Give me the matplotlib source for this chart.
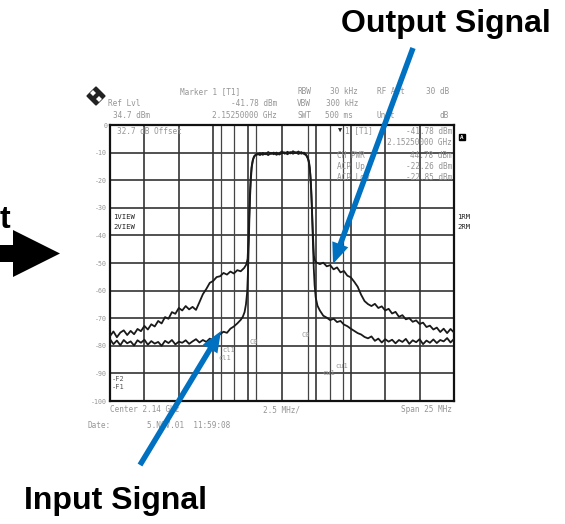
import matplotlib
matplotlib.use("Agg")
import matplotlib.pyplot as plt
from matplotlib.patches import FancyArrow, Polygon
from matplotlib.transforms import IdentityTransform

W, H = 565, 524

# frequency offset from centre (MHz) and level (dB)
output_freq = [-12.5, -12.25, -12.0, -11.75, -11.5, -11.25, -11.0, -10.75, -10.5, -10.25,
               -10.0, -9.75, -9.5, -9.25, -9.0, -8.75, -8.5, -8.25, -8.0, -7.75,
               -7.5, -7.25, -7.0, -6.75, -6.5, -6.25, -6.0, -5.75, -5.5, -5.25,
               -5.0, -4.75, -4.5, -4.25, -4.0, -3.75, -3.5, -3.25, -3.0, -2.75,
               -2.6, -2.5, -2.44, -2.39, -2.34, -2.28, -2.22, -2.14, -2.05, -1.95,
               -1.8, -1.6, -1.4, -1.2, -1.0, -0.8, -0.6, -0.4, -0.2, 0.0,
               0.2, 0.4, 0.6, 0.8, 1.0, 1.2, 1.4, 1.6, 1.75,
               1.86, 1.95, 2.02, 2.08, 2.14, 2.2, 2.26, 2.32, 2.4,
               2.5, 2.75, 3.0, 3.25, 3.5, 3.75, 4.0, 4.25, 4.5, 4.75,
               5.0, 5.25, 5.5, 5.75, 6.0, 6.25, 6.5, 6.75, 7.0, 7.25,
               7.5, 7.75, 8.0, 8.25, 8.5, 8.75, 9.0, 9.25, 9.5, 9.75,
               10.0, 10.25, 10.5, 10.75, 11.0, 11.25, 11.5, 11.75, 12.0, 12.25, 12.5]
output_db = [-76.5, -74.8, -76.9, -75.2, -74.4, -76.1, -74.6, -75.8, -73.9, -74.7,
             -72.8, -74.1, -72.2, -73.0, -71.0, -71.9, -69.6, -70.2, -67.8, -68.4,
             -66.3, -67.2, -65.6, -66.8, -65.9, -67.0, -64.2, -61.3, -59.4, -57.2,
             -56.5, -55.1, -54.8, -53.6, -54.2, -53.1, -53.8, -52.6, -53.0, -51.8,
             -50.6, -48.5, -42.0, -34.0, -26.0, -19.5, -15.5, -13.0, -11.6, -10.9,
             -10.4, -10.9, -10.1, -10.6, -9.8, -10.5, -10.0, -10.8, -10.2, -9.6,
             -10.4, -9.7, -10.3, -9.5, -10.1, -9.6, -10.4, -10.0, -10.8,
             -11.6, -13.0, -15.5, -19.5, -26.0, -34.0, -41.0, -47.5, -49.2,
             -49.8, -50.4, -49.9, -51.2, -50.8, -52.3, -51.6, -53.4, -52.9, -54.6,
             -55.2, -56.8, -58.6, -61.5, -63.8, -64.9, -65.6, -64.8, -66.3, -65.7,
             -67.2, -66.6, -68.3, -67.7, -69.5, -68.9, -70.4, -70.0, -71.3, -70.8,
             -72.1, -71.6, -73.2, -72.7, -74.1, -73.4, -75.0, -73.8, -75.4, -73.9, -75.2]

input_freq = [-12.5, -12.25, -12.0, -11.75, -11.5, -11.25, -11.0, -10.75, -10.5, -10.25,
              -10.0, -9.75, -9.5, -9.25, -9.0, -8.75, -8.5, -8.25, -8.0, -7.75,
              -7.5, -7.25, -7.0, -6.75, -6.5, -6.25, -6.0, -5.75, -5.5, -5.25,
              -5.0, -4.75, -4.5, -4.25, -4.0, -3.75, -3.5, -3.25, -3.0, -2.85,
              -2.72, -2.62, -2.53, -2.47, -2.42, -2.37, -2.32, -2.26, -2.19, -2.1, -2.0,
              -1.8, -1.6, -1.4, -1.2, -1.0, -0.8, -0.6, -0.4, -0.2, 0.0,
              0.2, 0.4, 0.6, 0.8, 1.0, 1.2, 1.4, 1.6, 1.75,
              1.88, 1.97, 2.05, 2.12, 2.19, 2.25, 2.31, 2.37, 2.45, 2.58,
              2.75, 3.0, 3.25, 3.5, 3.75, 4.0, 4.25, 4.5, 4.75,
              5.0, 5.25, 5.5, 5.75, 6.0, 6.25, 6.5, 6.75, 7.0, 7.25,
              7.5, 7.75, 8.0, 8.25, 8.5, 8.75, 9.0, 9.25, 9.5, 9.75,
              10.0, 10.25, 10.5, 10.75, 11.0, 11.25, 11.5, 11.75, 12.0, 12.25, 12.5]
input_db = [-77.6, -79.4, -78.1, -79.8, -77.9, -79.1, -78.4, -79.9, -78.0, -78.9,
            -77.8, -79.6, -78.3, -79.2, -78.6, -80.0, -78.2, -79.0, -77.9, -79.5,
            -78.5, -78.9, -78.0, -79.3, -78.4, -77.6, -78.8, -77.9, -78.6, -77.4,
            -78.1, -76.6, -75.8, -74.9, -75.3, -73.8, -73.0, -71.9, -70.6, -69.5,
            -67.8, -65.0, -60.5, -53.0, -44.0, -34.0, -26.0, -19.5, -15.0, -12.5, -11.2,
            -10.7, -10.2, -10.8, -10.3, -10.9, -10.1, -10.6, -10.0, -10.7, -10.2,
            -9.9, -10.6, -9.8, -10.4, -9.9, -10.5, -9.8, -10.5, -10.9,
            -12.2, -14.0, -17.5, -23.0, -32.0, -43.0, -52.0, -58.0, -62.5, -65.5,
            -67.2, -69.1, -69.8, -70.7, -70.2, -71.4, -71.0, -72.3, -72.9,
            -73.8, -74.6, -75.4, -75.9, -76.8, -77.3, -76.6, -78.2, -77.4, -78.8,
            -77.6, -78.5, -77.8, -79.1, -77.9, -78.6, -77.5, -79.3, -78.0, -78.7,
            -77.6, -79.4, -78.1, -78.9, -77.7, -79.0, -77.9, -78.4, -77.2, -78.8, -77.5]

channel_lines = [-4.45, -3.5, -1.92, 1.92, 3.5, 4.45]
level_ticks = [0, -10, -20, -30, -40, -50, -60, -70, -80, -90, -100]
freq_grid = [-12.5, -10.0, -7.5, -5.0, -2.5, 0.0, 2.5, 5.0, 7.5, 10.0, 12.5]

GREY = "#959595"
MONO = "DejaVu Sans Mono"


def fx(x):
    return x / W


def fy(y):
    return 1 - y / H


fig = plt.figure(figsize=(W / 100, H / 100), dpi=100)
fig.patch.set_facecolor("white")
ax = fig.add_axes([fx(110), fy(401), 344 / W, 276 / H])

for f in freq_grid:
    ax.axvline(f, color="#333333", lw=1.2, zorder=1)
for lv in level_ticks:
    ax.axhline(lv, color="#333333", lw=1.2, zorder=1)
for f in channel_lines:
    ax.axvline(f, color="#444444", lw=0.9, zorder=1)

ax.plot(output_freq, output_db, color="#1a1a1a", lw=1.3, zorder=3)
ax.plot(input_freq, input_db, color="#1a1a1a", lw=1.3, zorder=3)

ax.set_xlim(-12.5, 12.5)
ax.set_ylim(-100, 0)
ax.set_xticks([])
ax.set_yticks(level_ticks)
ax.set_yticklabels([str(v) for v in level_ticks], fontsize=4.8, color=GREY,
                   family=MONO)
ax.tick_params(axis="y", length=0, pad=2)
for s in ax.spines.values():
    s.set_linewidth(1.6)
    s.set_color("#111111")


def txt(x, y, s, ha="left", color=GREY, size=5.6, **kw):
    fig.text(fx(x), fy(y), s, ha=ha, va="center", color=color, fontsize=size,
             family=MONO, **kw)


# header block
txt(180, 92, "Marker 1 [T1]")
txt(297, 92, "RBW")
txt(358, 92, "30 kHz", ha="right")
txt(377, 92, "RF Att")
txt(449, 92, "30 dB", ha="right")
txt(108, 104, "Ref Lvl")
txt(277, 104, "-41.78 dBm", ha="right")
txt(297, 104, "VBW")
txt(358, 104, "300 kHz", ha="right")
txt(113, 115, "34.7 dBm")
txt(277, 115, "2.15250000 GHz", ha="right")
txt(297, 115, "SWT")
txt(353, 115, "500 ms", ha="right")
txt(377, 115, "Unit")
txt(449, 115, "dB", ha="right")

# marker / channel power readout
txt(117, 131, "32.7 dB Offset")
txt(338, 131, "\u25bc", color="#222222", size=5)
txt(345, 131, "1 [T1]")
txt(452, 131, "-41.78 dBm", ha="right")
txt(452, 143, "2.15250000 GHz", ha="right")
txt(337, 155, "CH PWR")
txt(452, 155, "44.78 dBm", ha="right")
txt(337, 166.5, "ACP Up")
txt(452, 166.5, "-22.26 dBm", ha="right")
txt(337, 177.5, "ACP Low")
txt(452, 177.5, "-22.85 dBm", ha="right")

txt(113, 217, "1VIEW", color="#222222", size=5.2)
txt(113, 227, "2VIEW", color="#222222", size=5.2)
txt(457, 217, "1RM", color="#222222", size=5.2)
txt(457, 227, "2RM", color="#222222", size=5.2)
txt(462, 137, "A", ha="center", color="white", size=4.2, weight="bold",
    bbox=dict(boxstyle="square,pad=0.15", fc="black", ec="black"))

txt(112, 379, "-F2", color="#555555", size=5)
txt(112, 387, "-F1", color="#555555", size=5)
txt(250, 342, "C0", size=5)
txt(222, 350, "cl1", size=5)
txt(218, 358, "cl1", size=5)
txt(302, 335, "C0", size=5)
txt(335, 366, "cu1", size=5)
txt(322, 373, "cu1", size=5)

# footer
txt(110, 410, "Center 2.14 GHz")
txt(263, 410, "2.5 MHz/")
txt(452, 410, "Span 25 MHz", ha="right")
txt(88, 425, "Date:")
txt(147, 425, "5.NOV.01  11:59:08")

# small diamond logo
idt = IdentityTransform()
cx, cy, r = 96, H - 96, 9
fig.add_artist(Polygon([(cx - r, cy), (cx, cy + r), (cx + r, cy), (cx, cy - r)],
                       closed=True, fc="#222222", ec="#222222", transform=idt))
for dx, dy in [(-3, 3), (3, -3)]:
    s = 3
    fig.add_artist(Polygon([(cx + dx - s, cy + dy), (cx + dx, cy + dy + s),
                            (cx + dx + s, cy + dy), (cx + dx, cy + dy - s)],
                           closed=True, fc="white", ec="none", transform=idt))

# black arrow at left edge and the visible end of its label
fig.add_artist(Polygon([(0, H - 245), (13, H - 245), (13, H - 230), (60, H - 253.5),
                        (13, H - 277), (13, H - 262), (0, H - 262)],
                       closed=True, fc="black", ec="none", transform=idt))
fig.text(fx(0), fy(228), "t", ha="left", va="baseline", fontsize=23,
         weight="bold", family="Liberation Sans")

# blue callout arrows
BLUE = "#0070c0"
for (x0, y0), (x1, y1) in [((413, 48), (333, 264)), ((140, 465), (221, 331))]:
    fig.add_artist(FancyArrow(x0, H - y0, x1 - x0, -(y1 - y0), width=5.5,
                              head_width=17, head_length=21,
                              length_includes_head=True, fc=BLUE, ec=BLUE,
                              lw=0, transform=idt, zorder=10))

fig.text(fx(446), fy(32), "Output Signal", ha="center", va="baseline",
         fontsize=23, weight="bold", family="Liberation Sans")
fig.text(fx(116), fy(509), "Input Signal", ha="center", va="baseline",
         fontsize=23, weight="bold", family="Liberation Sans")

fig.savefig("out.png", dpi=100)
